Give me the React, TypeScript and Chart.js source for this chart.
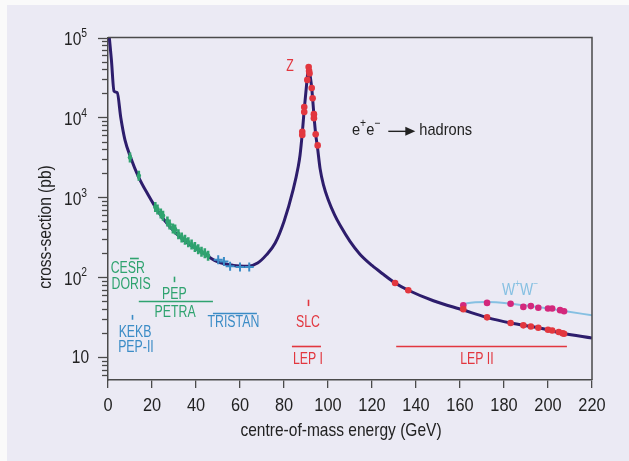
import React, { useEffect, useRef } from "react";
import { Chart, registerables } from "chart.js";
Chart.register(...registerables);

const FONT = "'Liberation Sans', Arial, sans-serif";
const AXIS = "#4a4a4a";
const TEXT = "#222222";
const CURVE = "#2d1d6c";
const GREEN = "#2fa36f";
const BLUE = "#3b8cc6";
const RED = "#e2373f";
const PINK = "#d3287c";
const LIGHTBLUE = "#86c0e2";
const BG = "#ebeaf4";

// Theoretical e+e- -> hadrons cross-section (pb) vs centre-of-mass energy (GeV)
const curveEnergy = [0.6, 1.55, 2.73, 4.2, 5.8, 7.7, 10.3, 13.8, 18.3, 22.9, 28.2, 34.2, 41.8, 49.4, 57.0, 63.8, 68.0, 72.0, 76.0, 80.0, 84.2, 86.5, 87.3, 88.3, 89.2, 90.3, 91.2, 92.0, 92.6, 93.0, 93.6, 94.4, 95.2, 96.4, 98.0, 100.1, 103.0, 105.5, 110.0, 114.5, 120.0, 125.0, 130.5, 136.5, 147.9, 161.5, 172.1, 183.0, 195.6, 206.7, 220];
const curveXsec = [100000, 52500, 21400, 20400, 10000, 5250, 3160, 1820, 1070, 660, 427, 295, 214, 158, 141, 138, 151, 191, 269, 501, 1260, 2455, 3390, 6310, 12600, 26300, 42700, 31600, 23400, 17400, 10700, 6170, 4270, 2290, 1410, 933, 603, 447, 282, 195, 141, 110, 85, 69, 51, 39, 31.6, 26.9, 23.4, 20, 17.4];

// Cross-section including W+W- production
const wwEnergy = [161, 163.2, 172.2, 183.1, 191.9, 200.2, 207.3, 220];
const wwXsec = [43.2, 47.3, 49, 46.8, 43.7, 40.7, 38, 33.5];

// Measurements
const greenEnergy = [10.0, 14.0, 21.5, 22.5, 24.0, 25.0, 27.0, 28.0, 29.5, 30.5, 32.0, 33.5, 35.0, 36.5, 38.0, 39.5, 41.0, 42.5, 44.0, 45.5];
const greenXsec = [3160, 1860, 759, 708, 631, 589, 501, 457, 407, 398, 347, 316, 295, 275, 257, 240, 224, 209, 200, 186];
const blueEnergy = [50.1, 52.7, 55.5, 60.0, 64.2];
const blueXsec = [166, 158, 138, 135, 135];
const zEnergy = [88.3, 88.3, 89.2, 89.2, 90.6, 91.2, 91.4, 91.6, 92.6, 93.0, 93.6, 93.6, 94.4, 95.3];
const zXsec = [6610, 6030, 13500, 11700, 29500, 42700, 38000, 35500, 23400, 17400, 11000, 9800, 6170, 4470];
const lep2Energy = [130.5, 136.5, 161.5, 172.3, 183.0, 188.8, 192.2, 195.6, 200.0, 201.9, 204.9, 206.6, 207.3];
const lep2Xsec = [85, 69, 40, 31.6, 26.9, 25.1, 24.3, 23.4, 22.1, 21.6, 20.7, 20.0, 19.7];
const wwDataEnergy = [161.5, 172.3, 183.0, 188.8, 192.2, 195.6, 200.0, 201.9, 205.5, 207.3];
const wwDataXsec = [44.7, 47.9, 46.8, 42.7, 43.7, 41.7, 40.7, 40.7, 38.9, 37.6];

// Axis ranges
const xMin = 0;
const xMax = 220;
const xStep = 20;
const yMin = 5.2;
const yMax = 100000;
const yDecades = [1, 2, 3, 4, 5];
const xTitle = "centre-of-mass energy (GeV)";
const yTitle = "cross-section (pb)";

// Collider annotations (energy range bars, marks and labels)
const rangeFrom = [10, 14, 47.7, 83.6, 131];
const rangeTo = [14, 47.7, 67.7, 96.8, 208.6];
const rangeLevel = [176, 50, 36.3, 13.9, 13.9];
const rangeColor = [GREEN, GREEN, BLUE, RED, RED];

const markEnergy = [30, 10.9, 91];
const markLow = [87, 29.5, 43.7];
const markHigh = [102, 33.9, 52.5];
const markColor = [GREEN, BLUE, RED];

const labelText = ["Z", "CESR", "DORIS", "PEP", "PETRA", "TRISTAN", "KEKB", "PEP-II", "SLC", "LEP I", "LEP II"];
const labelEnergy = [82.7, 9.0, 10.5, 30.2, 30.5, 57.0, 12.3, 12.7, 90.9, 90.9, 167.7];
const labelXsec = [42700, 129, 80.5, 61.7, 36.3, 26.9, 20.4, 13.3, 27.5, 9.33, 9.33];
const labelColor = [RED, GREEN, GREEN, GREEN, GREEN, BLUE, BLUE, BLUE, RED, RED, RED];

const processEnergy = 110.9;
const processXsec = 6900;
const wwLabelEnergy = 187.3;
const wwLabelXsec = 67.6;

const pts = (xs: number[], ys: number[]) => xs.map((x, i) => ({ x, y: ys[i] }));

function font(size: number) {
  return `${size}px ${FONT}`;
}

// Draw text with superscript pieces: parts = [[text, isSup], ...]
function drawRich(ctx: CanvasRenderingContext2D, parts: [string, boolean][], x: number, y: number, size: number, align: "left" | "center" | "right", sx = 1, supRatio = 0.62) {
  const supSize = Math.round(size * supRatio);
  const widths = parts.map(([t, sup]) => {
    ctx.font = font(sup ? supSize : size);
    return ctx.measureText(t).width;
  });
  const total = widths.reduce((a, b) => a + b, 0) * sx;
  const start = align === "left" ? x : align === "center" ? x - total / 2 : x - total;
  ctx.save();
  ctx.translate(start, y);
  ctx.scale(sx, 1);
  ctx.textAlign = "left";
  ctx.textBaseline = "middle";
  let cx = 0;
  parts.forEach(([t, sup], i) => {
    ctx.font = font(sup ? supSize : size);
    ctx.fillText(t, cx, sup ? -size * 0.4 : 0);
    cx += widths[i];
  });
  ctx.restore();
  return total;
}

const overlay = {
  id: "overlay",
  afterDraw(chart: any) {
    const ctx: CanvasRenderingContext2D = chart.ctx;
    const xs = chart.scales.x;
    const ys = chart.scales.y;
    const { left, right, top, bottom } = chart.chartArea;
    ctx.save();

    // frame (top & right)
    ctx.strokeStyle = AXIS;
    ctx.lineWidth = 1.5;
    ctx.beginPath();
    ctx.moveTo(left, top);
    ctx.lineTo(right, top);
    ctx.lineTo(right, bottom);
    ctx.stroke();

    // y ticks (major and minor, outward)
    ctx.lineWidth = 1.3;
    for (let e = 0; e <= 5; e++) {
      for (let m = 1; m <= 9; m++) {
        const v = m * Math.pow(10, e);
        if (v < yMin || v > yMax) continue;
        const py = Math.round(ys.getPixelForValue(v)) + 0.5;
        const len = m === 1 ? 10 : 6;
        ctx.beginPath();
        ctx.moveTo(left - len, py);
        ctx.lineTo(left, py);
        ctx.stroke();
      }
    }

    // y tick labels
    ctx.fillStyle = TEXT;
    yDecades.forEach((d) => {
      const py = ys.getPixelForValue(Math.pow(10, d));
      if (d === 1) {
        drawRich(ctx, [["10", false]], left - 19, py + 1, 18, "right", 0.86);
      } else {
        drawRich(ctx, [["10", false], [String(d), true]], left - 21, py + 3, 18, "right", 0.86, 0.65);
      }
    });

    // x tick labels
    xs.ticks.forEach((t: any) => {
      drawRich(ctx, [[String(t.value), false]], xs.getPixelForValue(t.value), bottom + 26, 19, "center", 0.86);
    });

    // axis titles
    drawRich(ctx, [[xTitle, false]], 341, 431, 18.5, "center", 0.84);
    ctx.save();
    ctx.translate(46, 227);
    ctx.rotate(-Math.PI / 2);
    drawRich(ctx, [[yTitle, false]], 0, 0, 18.5, "center", 0.84);
    ctx.restore();

    // range bars
    ctx.lineWidth = 1.6;
    rangeFrom.forEach((f, i) => {
      const py = Math.round(ys.getPixelForValue(rangeLevel[i])) + 0.5;
      ctx.strokeStyle = rangeColor[i];
      ctx.beginPath();
      ctx.moveTo(xs.getPixelForValue(f), py);
      ctx.lineTo(xs.getPixelForValue(rangeTo[i]), py);
      ctx.stroke();
    });
    // marks
    markEnergy.forEach((m, i) => {
      const px = Math.round(xs.getPixelForValue(m)) + 0.5;
      ctx.strokeStyle = markColor[i];
      ctx.beginPath();
      ctx.moveTo(px, ys.getPixelForValue(markLow[i]));
      ctx.lineTo(px, ys.getPixelForValue(markHigh[i]));
      ctx.stroke();
    });
    // labels
    labelText.forEach((t, i) => {
      ctx.fillStyle = labelColor[i];
      drawRich(ctx, [[t, false]], xs.getPixelForValue(labelEnergy[i]), ys.getPixelForValue(labelXsec[i]), 16, "center", 0.77);
    });

    // e+e- -> hadrons
    ctx.fillStyle = TEXT;
    const px0 = xs.getPixelForValue(processEnergy);
    const py0 = ys.getPixelForValue(processXsec);
    const w = drawRich(ctx, [["e", false], ["+", true], ["e", false], ["\u2212", true]], px0, py0, 17, "left", 0.86, 0.7);
    const ax = px0 + w + 8;
    ctx.strokeStyle = TEXT;
    ctx.lineWidth = 1.4;
    ctx.beginPath();
    ctx.moveTo(ax, py0 + 1);
    ctx.lineTo(ax + 20, py0 + 1);
    ctx.stroke();
    ctx.beginPath();
    ctx.moveTo(ax + 17, py0 - 3.5);
    ctx.lineTo(ax + 27, py0 + 1);
    ctx.lineTo(ax + 17, py0 + 5.5);
    ctx.closePath();
    ctx.fill();
    drawRich(ctx, [["hadrons", false]], ax + 31, py0, 17, "left", 0.86);

    // W+W-
    ctx.fillStyle = LIGHTBLUE;
    drawRich(ctx, [["W", false], ["+", true], ["W", false], ["\u2212", true]], xs.getPixelForValue(wwLabelEnergy), ys.getPixelForValue(wwLabelXsec), 16.5, "center", 0.84, 0.6);

    ctx.restore();
  },
};

export default function App() {
  const ref = useRef<HTMLCanvasElement | null>(null);
  useEffect(() => {
    if (!ref.current) return;
    Chart.defaults.font.family = FONT;
    const chart = new Chart(ref.current, {
      type: "line",
      data: {
        datasets: [
          { data: pts(zEnergy, zXsec), showLine: false, pointRadius: 3.3, pointBackgroundColor: RED, pointBorderWidth: 0, order: 1 } as any,
          { data: pts(lep2Energy, lep2Xsec), showLine: false, pointRadius: 3.3, pointBackgroundColor: RED, pointBorderWidth: 0, order: 1 },
          { data: pts(wwDataEnergy, wwDataXsec), showLine: false, pointRadius: 3.3, pointBackgroundColor: PINK, pointBorderWidth: 0, order: 1 },
          { data: pts(greenEnergy, greenXsec), showLine: false, pointStyle: "line", rotation: 90, pointRadius: 5, pointBorderColor: GREEN, pointBorderWidth: 2.6, order: 2 },
          { data: pts(greenEnergy, greenXsec), showLine: false, pointRadius: 2.3, pointBackgroundColor: GREEN, pointBorderWidth: 0, order: 2 },
          { data: pts(blueEnergy, blueXsec), showLine: false, pointStyle: "cross", pointRadius: 4.5, pointBorderColor: BLUE, pointBorderWidth: 2, order: 2 },
          { data: pts(wwEnergy, wwXsec), borderColor: LIGHTBLUE, borderWidth: 2, pointRadius: 0, cubicInterpolationMode: "monotone", order: 5 },
          { data: pts(curveEnergy, curveXsec), borderColor: CURVE, borderWidth: 3, pointRadius: 0, cubicInterpolationMode: "monotone", order: 4 },
        ],
      },
      options: {
        responsive: false,
        devicePixelRatio: 1,
        animation: false,
        events: [],
        layout: { padding: { top: 37.5, right: 37, left: 0, bottom: 0 } },
        plugins: { legend: { display: false }, tooltip: { enabled: false } },
        scales: {
          x: {
            type: "linear",
            min: xMin,
            max: xMax,
            ticks: { stepSize: xStep, display: false },
            grid: { display: true, drawOnChartArea: false, drawTicks: true, tickLength: 8, color: AXIS, lineWidth: 1.3 },
            border: { display: true, color: AXIS, width: 1.5 },
            title: { display: false },
            afterFit: (s: any) => { s.height = 81; },
          },
          y: {
            type: "logarithmic",
            min: yMin,
            max: yMax,
            ticks: { display: false },
            grid: { display: false },
            border: { display: true, color: AXIS, width: 1.5 },
            title: { display: false },
            afterFit: (s: any) => { s.width = 108; },
          },
        },
      } as any,
      plugins: [overlay],
    });
    return () => chart.destroy();
  }, []);

  return (
    <div style={{ position: "fixed", left: 0, top: 0, width: 629, height: 461, background: "#fafafa" }}>
      <div style={{ position: "absolute", left: 7, top: 5, right: 0, bottom: 0, background: BG }} />
      <canvas ref={ref} width={629} height={461} style={{ position: "absolute", left: 0, top: 0, width: 629, height: 461 }} />
    </div>
  );
}
